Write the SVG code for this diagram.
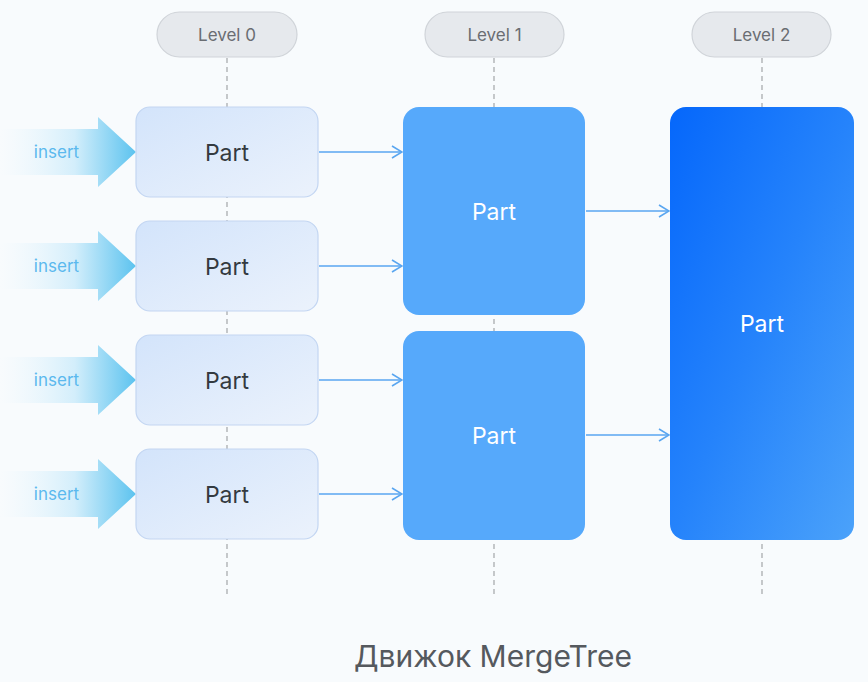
<svg xmlns="http://www.w3.org/2000/svg" width="868" height="682" viewBox="0 0 868 682">
<defs>
<linearGradient id="g0" x1="0" y1="0" x2="1" y2="1">
<stop offset="0" stop-color="#d3e4fb"/>
<stop offset="1" stop-color="#ebf2fc"/>
</linearGradient>
<linearGradient id="g2" x1="0" y1="0" x2="1" y2="1">
<stop offset="0" stop-color="#0567fb"/>
<stop offset="0.5" stop-color="#2583fb"/>
<stop offset="1" stop-color="#4ba2fa"/>
</linearGradient>
<linearGradient id="gi" x1="0" y1="0" x2="1" y2="0">
<stop offset="0" stop-color="#eaf6fd" stop-opacity="0"/>
<stop offset="0.55" stop-color="#d3eefb"/>
<stop offset="1" stop-color="#5cc3ef"/>
</linearGradient>
<marker id="ah" viewBox="0 0 12 14" refX="11" refY="7" markerWidth="12" markerHeight="14" markerUnits="userSpaceOnUse" orient="auto">
<path d="M1,1 L11,7 L1,13" fill="none" stroke="#5aa6f0" stroke-width="1.6"/>
</marker>
<path id="ins" d="M0,-23 H98 V-35 L136,0 L98,35 V23 H0 Z"/>
</defs>
<style>
.pill{fill:#e6e9ed;stroke:#d0d4d9;stroke-width:1.2}
.pt{font-family:"Inter","Liberation Sans",sans-serif;font-size:17px;fill:#6a6d72;text-anchor:middle}
.dash{stroke:#a9acb0;stroke-width:1.3;stroke-dasharray:5 4}
.p0{fill:url(#g0);stroke:#c3d6f2;stroke-width:1.2}
.p1{fill:#56a9fb}
.p2{fill:url(#g2)}
.t0{font-family:"Inter","Liberation Sans",sans-serif;font-size:23px;fill:#343a40;text-anchor:middle}
.tw{font-family:"Inter","Liberation Sans",sans-serif;font-size:23px;fill:#ffffff;text-anchor:middle}
.it{font-family:"Inter","Liberation Sans",sans-serif;font-size:17px;fill:#5bb9ee;text-anchor:middle}
.con{stroke:#5aa6f0;stroke-width:1.6;fill:none;marker-end:url(#ah)}
</style>
<rect width="868" height="682" fill="#f8fbfd"/>
<g id="levels">
<g id="level0"><line class="dash" x1="227" y1="58" x2="227" y2="594"/><rect class="pill" x="157" y="12" width="140" height="45" rx="22.5"/><text class="pt" x="227" y="40.5">Level 0</text></g>
<g id="level1"><line class="dash" x1="494" y1="58" x2="494" y2="594"/><rect class="pill" x="425" y="12" width="139" height="45" rx="22.5"/><text class="pt" x="494.5" y="40.5">Level 1</text></g>
<g id="level2"><line class="dash" x1="762" y1="58" x2="762" y2="594"/><rect class="pill" x="692" y="12" width="139" height="45" rx="22.5"/><text class="pt" x="761.5" y="40.5">Level 2</text></g>
</g>
<g id="inserts">
<g id="insert1" transform="translate(0,152)"><use href="#ins" fill="url(#gi)"/><text class="it" x="56.5" y="6">insert</text></g>
<g id="insert2" transform="translate(0,266)"><use href="#ins" fill="url(#gi)"/><text class="it" x="56.5" y="6">insert</text></g>
<g id="insert3" transform="translate(0,380)"><use href="#ins" fill="url(#gi)"/><text class="it" x="56.5" y="6">insert</text></g>
<g id="insert4" transform="translate(0,494)"><use href="#ins" fill="url(#gi)"/><text class="it" x="56.5" y="6">insert</text></g>
</g>
<g id="l0p1"><rect class="p0" x="136" y="107" width="182" height="90" rx="14"/><text class="t0" x="227" y="161">Part</text></g>
<g id="l0p2"><rect class="p0" x="136" y="221" width="182" height="90" rx="14"/><text class="t0" x="227" y="275">Part</text></g>
<g id="l0p3"><rect class="p0" x="136" y="335" width="182" height="90" rx="14"/><text class="t0" x="227" y="389">Part</text></g>
<g id="l0p4"><rect class="p0" x="136" y="449" width="182" height="90" rx="14"/><text class="t0" x="227" y="503">Part</text></g>
<g id="l1p1"><rect class="p1" x="403" y="107" width="182" height="208" rx="16"/><text class="tw" x="494" y="220">Part</text></g>
<g id="l1p2"><rect class="p1" x="403" y="331" width="182" height="209" rx="16"/><text class="tw" x="494" y="444">Part</text></g>
<g id="l2p1"><rect class="p2" x="670" y="107" width="184" height="433" rx="16"/><text class="tw" x="762" y="332">Part</text></g>
<g id="connectors">
<line class="con" x1="319" y1="152" x2="402" y2="152"/>
<line class="con" x1="319" y1="266" x2="402" y2="266"/>
<line class="con" x1="319" y1="380" x2="402" y2="380"/>
<line class="con" x1="319" y1="494" x2="402" y2="494"/>
<line class="con" x1="586" y1="211" x2="669" y2="211"/>
<line class="con" x1="586" y1="435" x2="669" y2="435"/>
</g>
<text x="493" y="667" font-family="Inter, 'Liberation Sans', sans-serif" font-size="30" fill="#55595e" text-anchor="middle">Движок MergeTree</text>
</svg>
